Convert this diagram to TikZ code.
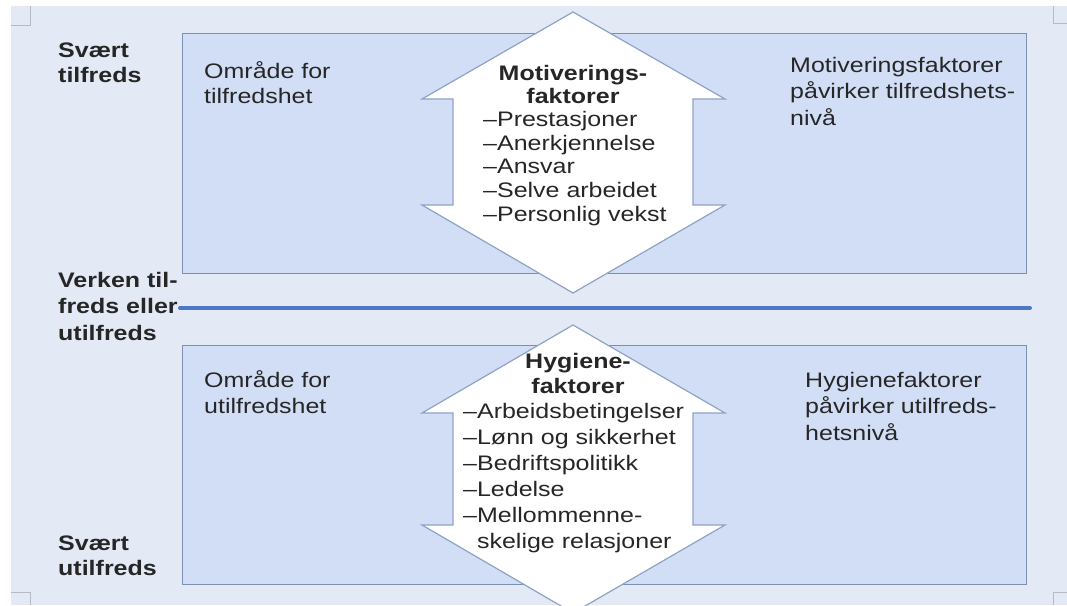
\documentclass[tikz,border=0pt]{standalone}
\usepackage{fontspec}
\setmainfont{Liberation Sans}[FakeStretch=1.19]
\definecolor{bg}{HTML}{E4E9F6}
\definecolor{boxfill}{HTML}{D2DEF5}
\definecolor{boxline}{HTML}{7D90B3}
\definecolor{arrowline}{HTML}{8EA2C6}
\definecolor{midline}{HTML}{4C79C6}
\definecolor{txt}{HTML}{262626}
\definecolor{cmark}{HTML}{B5BAC6}
\tikzset{
  areabox/.style={draw=boxline, fill=boxfill, line width=1.4pt, inner sep=0pt, anchor=north west},
  bigarrow/.style={draw=arrowline, fill=white, line width=1.2pt, line join=miter},
  lbl/.style={text=txt, inner sep=0pt, anchor=base west, align=left},
  sidelbl/.style={lbl, font=\bfseries\fontsize{21}{25}\selectfont},
  boxtxt/.style={lbl, font=\fontsize{21}{26}\selectfont},
}
\begin{document}
\begin{tikzpicture}[x=1pt,y=-1pt]
\useasboundingbox (0,0) rectangle (1067,605);
\fill[white] (0,0) rectangle (1067,605);
\fill[bg] (11,6) rectangle (1067,605);
% corner marks
\draw[cmark, line width=0.8pt] (11,25) -- (30,25) -- (30,6);
\draw[cmark, line width=0.8pt] (1067,23) -- (1053,23) -- (1053,6);
\draw[cmark, line width=0.8pt] (11,592) -- (30,592) -- (30,605);
\draw[cmark, line width=0.8pt] (1067,592) -- (1053,592) -- (1053,605);
% boxes
\node[areabox, minimum width=844pt, minimum height=240pt] (upbox) at (182,33) {};
\node[areabox, minimum width=844pt, minimum height=239pt] (lowbox) at (182,345) {};
% middle line
\coordinate (mlA) at (180,308);
\coordinate (mlB) at (1030,308);
\draw[midline, line width=4pt, line cap=round] (mlA) -- (mlB);
% arrows
\begin{scope}
\clip (0,0) rectangle (1067,605);
\draw[bigarrow] (573,12) -- (725,99) -- (693,99) -- (693,205) -- (725,205) -- (573,293)
  -- (422,205) -- (453,205) -- (453,99) -- (422,99) -- cycle;
\draw[bigarrow] (573,325) -- (725,413) -- (693,413) -- (693,525) -- (725,525) -- (573,613)
  -- (422,525) -- (453,525) -- (453,413) -- (422,413) -- cycle;
\end{scope}
% left labels (anchored at the baseline of the last line)
\node[sidelbl] (svtop) at (58,82) {Svært\\tilfreds};
\node[sidelbl, font=\bfseries\fontsize{21}{26.5}\selectfont] (verken) at (58,340) {Verken til-\\freds eller\\utilfreds};
\node[sidelbl] (svbot) at (58,575) {Svært\\utilfreds};
% box texts
\node[boxtxt, font=\fontsize{21}{25}\selectfont] (omrtop) at (204,103) {Område for\\tilfredshet};
\node[boxtxt] (omrbot) at (204,413) {Område for\\utilfredshet};
\node[boxtxt, font=\fontsize{21}{26.5}\selectfont] (mottxt) at (790,125) {Motiveringsfaktorer\\påvirker tilfredshets-\\nivå};
\node[boxtxt, font=\fontsize{21}{26.5}\selectfont] (hygtxt) at (805,440) {Hygienefaktorer\\påvirker utilfreds-\\hetsnivå};
% arrow texts
\node[lbl, anchor=base, align=center, font=\bfseries\fontsize{21}{23}\selectfont] (mothead) at (573,103) {Motiverings-\\faktorer};
\node[lbl, font=\fontsize{21}{23.6}\selectfont] (motlist) at (483,221) {–Prestasjoner\\–Anerkjennelse\\–Ansvar\\–Selve arbeidet\\–Personlig vekst};
\node[lbl, anchor=base, align=center, font=\bfseries\fontsize{21}{25}\selectfont] (hyghead) at (578,393) {Hygiene-\\faktorer};
\node[lbl, font=\fontsize{21}{26}\selectfont] (hyglist) at (463,548) {–Arbeidsbetingelser\\–Lønn og sikkerhet\\–Bedriftspolitikk\\–Ledelse\\–Mellommenne-\\\phantom{–}skelige relasjoner};
\end{tikzpicture}
\end{document}
